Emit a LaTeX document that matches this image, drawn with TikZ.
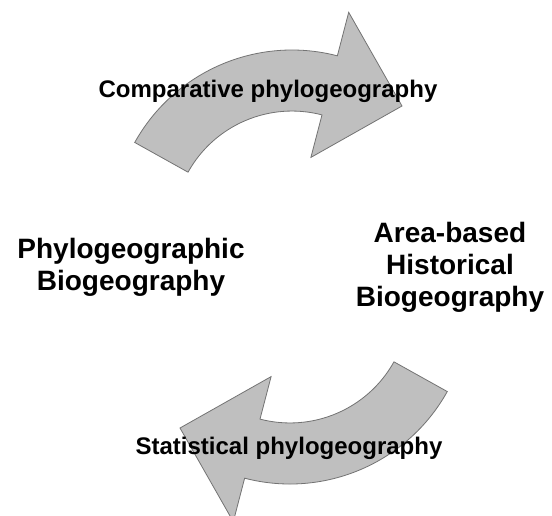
\documentclass[tikz,border=0pt]{standalone}
\usepackage{fontspec}
\setmainfont{Liberation Sans}
\begin{document}
\begin{tikzpicture}[x=1pt,y=1pt,
  arrowshape/.style={fill=black!25, draw=black!55, line width=0.8pt, line join=miter},
  curvedarrow/.style={insert path={
    (292,-230) ++(150.9:180) arc[start angle=150.9, end angle=75.4, radius=180]
    -- (348.7,-12.3) -- (402,-106) -- (310.9,-157.4)
    -- (322.0,-114.9) arc[start angle=75.4, end angle=150.9, radius=119] -- cycle}},
  lbl/.style={font=\fontsize{24}{28}\selectfont\bfseries, inner sep=0pt, anchor=base},
  big/.style={font=\fontsize{28}{32}\selectfont\bfseries, inner sep=0pt, align=center, anchor=center}]
\useasboundingbox (0,0) rectangle (552,-515);
% top curved arrow
\draw[arrowshape, curvedarrow];
% bottom curved arrow: the same shape turned by 180 degrees
\begin{scope}[rotate around={180:(291,-267)}]
  \draw[arrowshape, curvedarrow];
\end{scope}
\node[lbl] (comp) at (268,-97) {Comparative phylogeography};
\node[lbl] (stat) at (289,-454) {Statistical phylogeography};
\node[big] (phylo) at (131,-267) {Phylogeographic\\Biogeography};
\node[big] (area) at (450,-267) {Area-based\\Historical\\Biogeography};
\end{tikzpicture}
\end{document}
